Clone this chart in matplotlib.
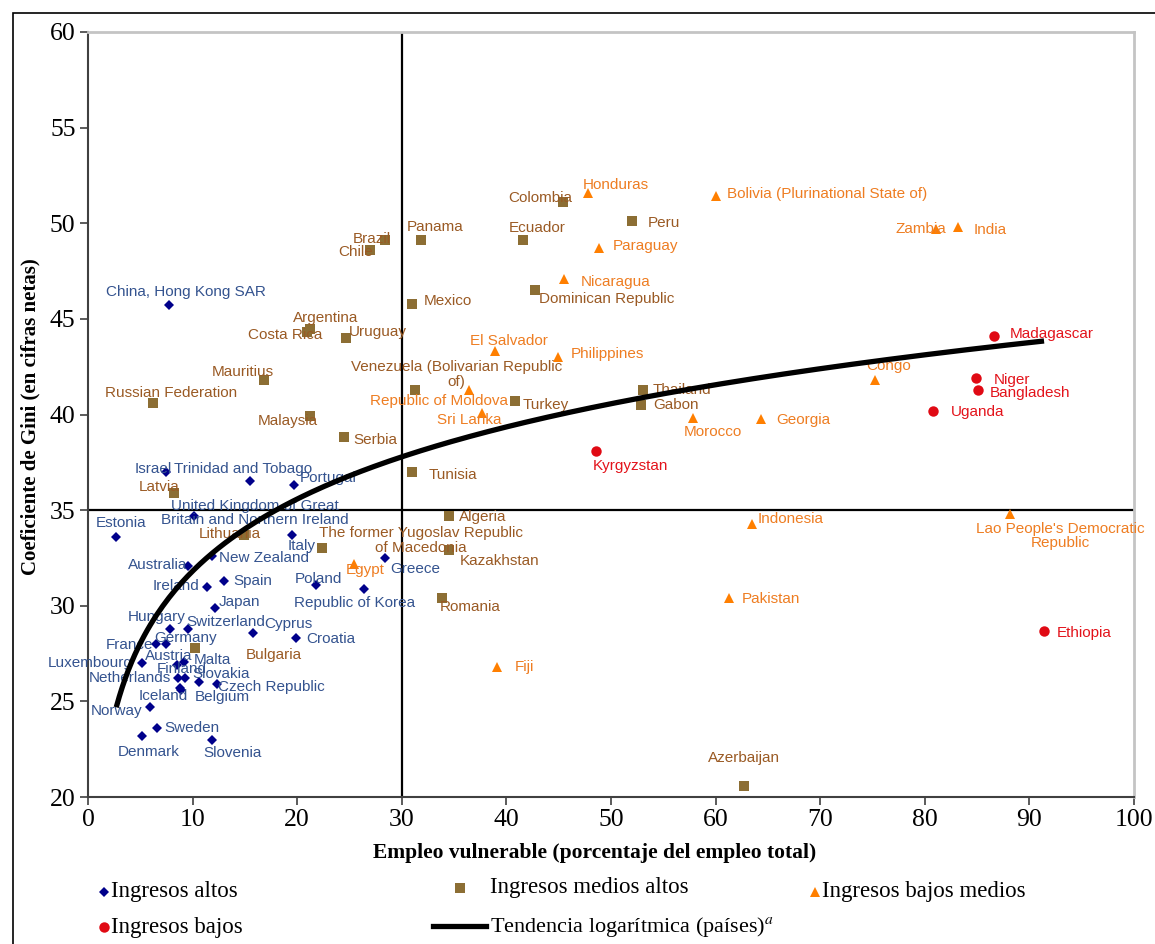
import numpy as np
import matplotlib
matplotlib.use("Agg")
import matplotlib.pyplot as plt
from matplotlib import font_manager as fm
from matplotlib.lines import Line2D
from matplotlib.patches import Rectangle

# ---------------- data ----------------
high_names = ["Israel", "Trinidad and Tobago", "Portugal",
              "United Kingdom of Great\nBritain and Northern Ireland", "Estonia", "Italy",
              "New Zealand", "Australia", "Spain", "Ireland", "Poland", "Greece",
              "Republic of Korea", "Japan", "Hungary", "Switzerland", "Cyprus", "Croatia",
              "France", "Germany", "Luxembourg", "Austria", "Finland", "Malta",
              "Netherlands", "Slovakia", "Czech Republic", "Iceland", "Belgium", "Norway",
              "Sweden", "Denmark", "Slovenia", "China, Hong Kong SAR"]
high_x = [7.5, 15.5, 19.7, 10.1, 2.7, 19.5, 11.9, 9.6, 13.0, 11.4, 21.8, 28.4,
          26.4, 12.1, 7.8, 9.6, 15.8, 19.9, 6.5, 7.5, 5.2, 9.2, 8.5, 9.3,
          8.6, 10.6, 12.3, 8.8, 8.9, 5.9, 6.6, 5.2, 11.9, 7.7]
high_y = [37.0, 36.5, 36.3, 34.7, 33.6, 33.7, 32.6, 32.1, 31.3, 31.0, 31.1, 32.5,
          30.9, 29.9, 28.8, 28.8, 28.6, 28.3, 28.0, 28.0, 27.0, 27.05, 26.9, 26.2,
          26.2, 26.0, 25.9, 25.7, 25.6, 24.7, 23.6, 23.2, 23.0, 45.7]

umid_names = ["Latvia", "Lithuania", "The former Yugoslav Republic\nof Macedonia",
              "Kazakhstan", "Tunisia", "Algeria", "Romania", "Bulgaria", "Argentina",
              "Costa Rica", "Uruguay", "Mauritius", "Russian Federation", "Malaysia",
              "Serbia", "Venezuela (Bolivarian Republic\nof)", "Mexico", "Colombia",
              "Peru", "Panama", "Brazil", "Chile", "Ecuador", "Dominican Republic",
              "Turkey", "Thailand", "Gabon", "Azerbaijan"]
umid_x = [8.2, 14.9, 22.4, 34.5, 31.0, 34.5, 33.8, 10.2, 21.2, 20.9, 24.7, 16.8,
          6.25, 21.2, 24.5, 31.3, 31.0, 45.4, 52.0, 31.8, 28.4, 27.0, 41.6, 42.7,
          40.8, 53.1, 52.9, 62.7]
umid_y = [35.9, 33.7, 33.0, 32.9, 37.0, 34.7, 30.4, 27.8, 44.45, 44.3, 44.0, 41.8,
          40.6, 39.9, 38.8, 41.3, 45.8, 51.1, 50.1, 49.1, 49.1, 48.6, 49.1, 46.5,
          40.7, 41.3, 40.5, 20.6]

lmid_names = ["Egypt", "Fiji", "Honduras", "Bolivia (Plurinational State of)", "Paraguay",
              "Nicaragua", "El Salvador", "Philippines", "Republic of Moldova",
              "Sri Lanka", "Morocco", "Georgia", "Zambia", "India", "Congo",
              "Indonesia", "Lao People's Democratic\nRepublic", "Pakistan"]
lmid_x = [25.4, 39.1, 47.8, 60.0, 48.9, 45.5, 38.9, 44.9, 36.4, 37.7, 57.8, 64.3,
          81.1, 83.2, 75.2, 63.5, 88.1, 61.3]
lmid_y = [32.2, 26.8, 51.6, 51.4, 48.7, 47.1, 43.3, 43.0, 41.3, 40.1, 39.8, 39.75,
          49.7, 49.8, 41.8, 34.3, 34.8, 30.4]

low_names = ["Kyrgyzstan", "Madagascar", "Niger", "Bangladesh", "Uganda", "Ethiopia"]
low_x = [48.6, 86.6, 84.9, 85.1, 80.8, 91.4]
low_y = [38.1, 44.1, 41.9, 41.3, 40.2, 28.7]

x_ticks = list(range(0, 101, 10))
y_ticks = list(range(20, 61, 5))
ref_x, ref_y = 30, 35

# -------------- label placement (pixel offsets from point, y downward) --------------
label_offsets = {
    "Israel": (-32, -3), "Trinidad and Tobago": (-76, -12), "Portugal": (6, -7),
    "United Kingdom of Great\nBritain and Northern Ireland": (61, -3, "c"),
    "Estonia": (-20, -14), "Italy": (-4, 11), "New Zealand": (7, 2),
    "Australia": (-60, -1), "Spain": (9, 0), "Ireland": (-55, -1), "Poland": (-21, -6),
    "Greece": (5, 11), "Republic of Korea": (-70, 14), "Japan": (4, -6),
    "Hungary": (-42, -12), "Switzerland": (-2, -7), "Cyprus": (11, -9), "Croatia": (10, 1),
    "France": (-50, 1), "Germany": (-12, -6), "Luxembourg": (-95, 0), "Austria": (-39, -6),
    "Finland": (-20, 4), "Malta": (8, -18), "Netherlands": (-89, 0), "Slovakia": (-7, -8),
    "Czech Republic": (1, 3), "Iceland": (-41, 8), "Belgium": (14, 7), "Norway": (-59, 4),
    "Sweden": (7, 0), "Denmark": (-25, 16), "Slovenia": (-9, 13),
    "China, Hong Kong SAR": (-63, -13),
    "Latvia": (-35, -6), "Lithuania": (-45, -1),
    "The former Yugoslav Republic\nof Macedonia": (99, -8, "c"),
    "Kazakhstan": (11, 11), "Tunisia": (16, 3), "Algeria": (10, 1), "Romania": (-2, 9),
    "Bulgaria": (51, 7), "Argentina": (-17, -11), "Costa Rica": (-59, 3), "Uruguay": (3, -6),
    "Mauritius": (-52, -8), "Russian Federation": (-48, -10), "Malaysia": (-52, 5),
    "Serbia": (9, 3), "Venezuela (Bolivarian Republic\nof)": (41, -15, "c"),
    "Mexico": (11, -3), "Colombia": (-55, -4), "Peru": (16, 2), "Panama": (-14, -13),
    "Brazil": (-32, -1), "Chile": (-32, 2), "Ecuador": (-14, -12),
    "Dominican Republic": (4, 9), "Turkey": (8, 4), "Thailand": (9, 0), "Gabon": (12, 0),
    "Azerbaijan": (0, -28, "c"),
    "Egypt": (-8, 6), "Fiji": (18, 0), "Honduras": (-5, -8),
    "Bolivia (Plurinational State of)": (11, -2), "Paraguay": (13, -2),
    "Nicaragua": (17, 3), "El Salvador": (-25, -10), "Philippines": (13, -3),
    "Republic of Moldova": (-99, 11), "Sri Lanka": (-45, 7), "Morocco": (-9, 14),
    "Georgia": (16, 1), "Zambia": (-41, 0), "India": (15, 3), "Congo": (-8, -14),
    "Indonesia": (5, -5), "Lao People's Democratic\nRepublic": (51, 22, "c"),
    "Pakistan": (13, 1),
    "Kyrgyzstan": (-4, 15), "Madagascar": (16, -2), "Niger": (18, 2),
    "Bangladesh": (12, 3), "Uganda": (18, 1), "Ethiopia": (13, 2),
}

# -------------- fonts --------------
avail = {f.name for f in fm.fontManager.ttflist}
if "Liberation Sans Narrow" in avail:
    LBL_FONT, LBL_SIZE = "Liberation Sans Narrow", 13
else:
    LBL_FONT, LBL_SIZE = "Liberation Sans", 11
SERIF = "Liberation Serif"
plt.rcParams["mathtext.fontset"] = "stix"

W, H = 1155, 944
fig = plt.figure(figsize=(W / 100, H / 100), dpi=100)
fig.patch.set_facecolor("white")

L, R, T, B = 88, 1134, 32, 797
ax = fig.add_axes([L / W, 1 - B / H, (R - L) / W, (B - T) / H])
ax.set_xlim(0, 100)
ax.set_ylim(20, 60)

def fx(px):
    return px / W

def fy(py):
    return 1 - py / H

groups = [
    (high_names, high_x, high_y, "D", 5.5, "#00008B", "#34538F"),
    (umid_names, umid_x, umid_y, "s", 7, "#8C6E34", "#9A5A24"),
    (lmid_names, lmid_x, lmid_y, "^", 7.5, "#FF7F00", "#EE7D22"),
    (low_names, low_x, low_y, "o", 7.5, "#E00A14", "#E3131B"),
]

# reference lines
ax.axvline(ref_x, color="black", lw=1.6, zorder=2)
ax.axhline(ref_y, color="black", lw=1.6, zorder=2)

for names, xs, ys, mk, ms, mcol, tcol in groups:
    ax.plot(xs, ys, linestyle="none", marker=mk, markersize=ms, color=mcol,
            markeredgewidth=0, zorder=4)
    for n, x, y in zip(names, xs, ys):
        off = label_offsets.get(n, (8, 0))
        ha = "center" if len(off) > 2 else "left"
        ax.annotate(n, (x, y), xytext=(off[0], -off[1]), textcoords="offset pixels",
                    ha=ha, va="center", multialignment="center",
                    fontsize=LBL_SIZE, family=LBL_FONT, color=tcol, zorder=5,
                    linespacing=1.05)

# logarithmic trend fitted over all countries
all_x = np.array(high_x + umid_x + lmid_x + low_x)
all_y = np.array(high_y + umid_y + lmid_y + low_y)
a, b = np.polyfit(np.log(all_x), all_y, 1)
xt = np.linspace(all_x.min(), all_x.max(), 300)
ax.plot(xt, a * np.log(xt) + b, color="black", lw=3.8, zorder=6, solid_capstyle="butt")

# axes styling
ax.set_xticks(x_ticks)
ax.set_yticks(y_ticks)
ax.tick_params(axis="both", direction="out", length=6, width=1.2, color="#404040",
               labelsize=18.5, pad=3)
for lab in ax.get_xticklabels() + ax.get_yticklabels():
    lab.set_family(SERIF)
for s in ("left", "bottom"):
    ax.spines[s].set_color("#404040")
    ax.spines[s].set_linewidth(1.5)
for s in ("top", "right"):
    ax.spines[s].set_color("#C4C4C4")
    ax.spines[s].set_linewidth(2)

fig.text(fx(595), fy(853), "Empleo vulnerable (porcentaje del empleo total)",
         ha="center", va="center", family=SERIF, fontweight="bold", fontsize=15.5)
fig.text(fx(30), fy(417), "Coeficiente de Gini (en cifras netas)", rotation=90,
         ha="center", va="center", family=SERIF, fontweight="bold", fontsize=15)

# legend (manual layout)
leg_items = [
    ("D", 5.5, "#00008B", 104, 892, 111, "Ingresos altos"),
    ("s", 7, "#8C6E34", 460, 888, 490, "Ingresos medios altos"),
    ("^", 7.5, "#FF7F00", 815, 892, 822, "Ingresos bajos medios"),
    ("o", 7.5, "#E00A14", 104, 927, 111, "Ingresos bajos"),
]
for mk, ms, col, mx, my, tx, txt in leg_items:
    fig.add_artist(Line2D([fx(mx)], [fy(my)], marker=mk, markersize=ms, color=col,
                          markeredgewidth=0, linestyle="none", transform=fig.transFigure))
    fig.text(fx(tx), fy(my), txt, ha="left", va="center", family=SERIF, fontsize=16.5)
fig.add_artist(Line2D([fx(433), fx(486)], [fy(926), fy(926)], color="black", lw=3.8,
                      transform=fig.transFigure))
fig.text(fx(490), fy(927), r"Tendencia logarítmica (países)$^{\mathit{a}}$", ha="left",
         va="center", family=SERIF, fontsize=16)

# outer frame
fig.add_artist(Rectangle((fx(13), fy(975)), (1200 - 13) / W, (975 - 13) / H,
                         fill=False, edgecolor="black", lw=1.2,
                         transform=fig.transFigure, clip_on=False))

fig.savefig("out.png", dpi=100, facecolor="white")
